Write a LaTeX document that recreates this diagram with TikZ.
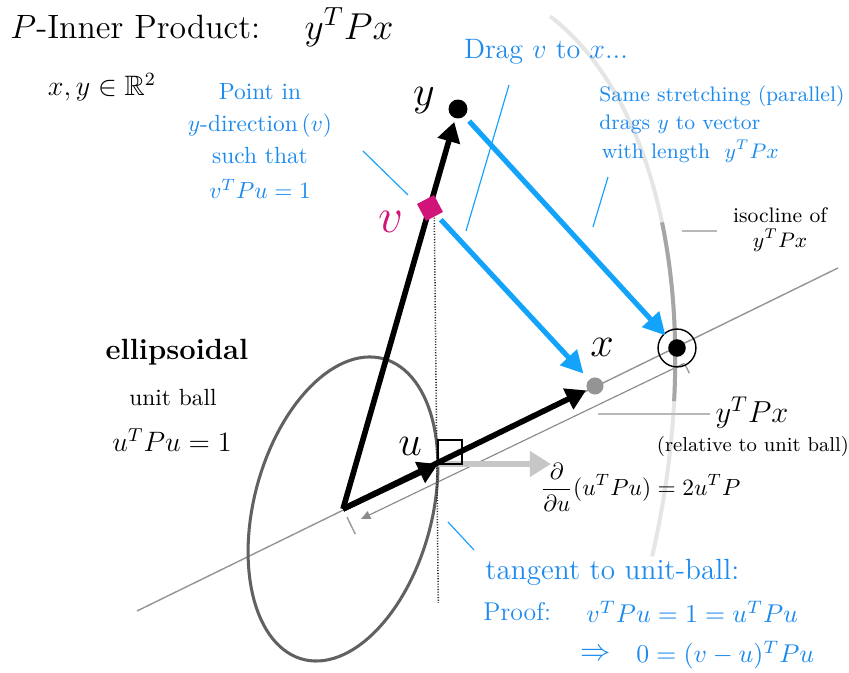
\RequirePackage{fix-cm}
\documentclass[tikz,border=0pt]{standalone}
\usepackage{amsmath,amssymb}
\usetikzlibrary{arrows.meta}
\definecolor{arrowblue}{RGB}{20,163,250}
\definecolor{textblue}{RGB}{28,138,238}
\definecolor{vmag}{RGB}{208,20,122}
\newcommand{\fsz}[2]{\fontsize{#1}{#2}\selectfont}
\tikzset{
  blackarrow/.style={line width=2.4pt,-{Triangle[length=8.5pt,width=9.5pt]}},
  bluearrow/.style={arrowblue,line width=2.2pt,-{Triangle[length=9.5pt,width=9.5pt]}},
  gradarrow/.style={black!22,line width=2.8pt,-{Triangle[length=9pt,width=10.5pt]}},
  dimarrow/.style={black!45,line width=0.5pt,-{Triangle[length=4pt,width=3.5pt]}},
  leaderblue/.style={arrowblue,line width=0.5pt},
  leadergray/.style={black!28,line width=0.7pt},
  bluetext/.style={text=textblue,inner sep=0pt},
  blacktext/.style={inner sep=0pt},
  vlabel/.style={inner sep=0pt},
}
\begin{document}
\begin{tikzpicture}[x=0.4274pt,y=-0.4274pt]
\useasboundingbox (0,0) rectangle (849,673);
% key points
\coordinate (O) at (343,509);
\coordinate (U) at (438,464);
\coordinate (Vc) at (430,208);
\coordinate (L1) at (137,611);
\coordinate (L2) at (838,268);
\coordinate (T1) at (434.3,215);
\coordinate (T2) at (438.3,603);
\coordinate (G) at (551,464);
\coordinate (D1) at (361,519);
\coordinate (D2) at (684.5,363.3);
\coordinate (K1a) at (347,517.1);
\coordinate (K1b) at (355.3,534.1);
\coordinate (K2a) at (685.4,365.1);
\coordinate (K2b) at (689.3,373.1);
% main line through O, u, x
\draw[black!42,line width=0.6pt] (L1) -- (L2);
% dimension arrow with ticks
\draw[dimarrow] (D2) -- (D1);
\draw[black!40,line width=0.6pt] (K1a) -- (K1b);
\draw[black!40,line width=0.6pt] (K2a) -- (K2b);
% isocline arc (scaled ellipse)
\draw[black!10,line width=1.7pt] plot[domain=-13.5:-86.4,samples=80,variable=\t]
  ({343+544.6*cos(\t)*0.2588-311.5*sin(\t)*0.9659},{509-(544.6*cos(\t)*0.9659+311.5*sin(\t)*0.2588)});
\draw[black!35,line width=1.7pt] plot[domain=-48.7:-69.6,samples=30,variable=\t]
  ({343+544.6*cos(\t)*0.2588-311.5*sin(\t)*0.9659},{509-(544.6*cos(\t)*0.9659+311.5*sin(\t)*0.2588)});
% unit ellipse
\draw[black!62,line width=1.3pt] plot[domain=0:360,samples=120,variable=\t]
  ({343+155.6*cos(\t)*0.2588-89*sin(\t)*0.9659},{509-(155.6*cos(\t)*0.9659+89*sin(\t)*0.2588)}) -- cycle;
% tangent (dotted)
\draw[black!85,line width=0.65pt,dash pattern=on 0.45pt off 0.7pt] (T1) -- (T2);
% gradient arrow
\draw[gradarrow] (U) -- (G);
% points
\node[circle,fill=black!42,minimum size=7.3pt,inner sep=0pt] (X) at (595,386) {};
\node[circle,fill=black,minimum size=8.1pt,inner sep=0pt] (Y) at (458,109) {};
\node[circle,fill=black,minimum size=7.5pt,inner sep=0pt] (C) at (677,348) {};
\node[circle,draw=black,line width=0.6pt,minimum size=16.2pt,inner sep=0pt] (Cring) at (C) {};
% black vectors
\draw[blackarrow] (O) -- (U);
\draw[blackarrow,shorten >=0.4pt] (O) -- (X);
\draw[blackarrow,shorten >=1.5pt] (O) -- (Y);
% right-angle marker at u
\draw[line width=0.8pt] (U) rectangle ++(24,-24);
% v point
\node[rectangle,fill=vmag,minimum size=8.2pt,inner sep=0pt,rotate=28] (V) at (Vc) {};
% blue drag arrows
\draw[bluearrow,shorten <=6.8pt,shorten >=3.4pt] (Vc) -- (X);
\draw[bluearrow,shorten <=2.8pt,shorten >=3.3pt] (Y) -- (C);
% blue leaders
\coordinate (B1a) at (363,151); \coordinate (B1b) at (408,195);
\coordinate (B2a) at (509,85);  \coordinate (B2b) at (466,231);
\coordinate (B3a) at (608,177); \coordinate (B3b) at (593,227);
\coordinate (B4a) at (448,522); \coordinate (B4b) at (474,550);
\draw[leaderblue] (B1a) -- (B1b);
\draw[leaderblue] (B2a) -- (B2b);
\draw[leaderblue] (B3a) -- (B3b);
\draw[leaderblue] (B4a) -- (B4b);
% gray leaders
\coordinate (G1a) at (682,231); \coordinate (G1b) at (717,231);
\coordinate (G2a) at (598,414); \coordinate (G2b) at (710,414);
\draw[leadergray] (G1a) -- (G1b);
\draw[leadergray] (G2a) -- (G2b);
% vector labels
\node[vlabel] (ylab) at (424,101) {\fsz{18}{20}$y$};
\node[vlabel] (xlab) at (602,347) {\fsz{18}{20}$x$};
\node[vlabel] (ulab) at (410,446) {\fsz{18}{20}$u$};
\node[vlabel,text=vmag] (vlab) at (391,222) {\fsz{21}{23}$v$};
% texts
\node[blacktext,anchor=west] (title) at (10,27) {\fsz{14.4}{17}$P$-Inner Product:};
\node[blacktext] (titlef) at (349,27) {\fsz{16}{19}$y^TPx$};
\node[blacktext] (space) at (102,87) {\fsz{12}{14}$x,y\in\mathbb{R}^2$};
\node[bluetext,align=center,font=\fsz{10}{13.8}] (pointin) at (260,141) {Point in\\$y$-direction$\,(v)$\\such that\\[1pt]$v^TPu=1$};
\node[bluetext] (drag) at (546,52) {\fsz{12}{14}Drag $v$ to $x$...};
\node[bluetext,align=left,anchor=west,font=\fsz{9}{12.2}] (same) at (599,124) {Same stretching (parallel)\\drags $y$ to vector\\\hspace{1pt}with length~ $y^TPx$};
\node[blacktext,align=center,font=\fsz{9}{10.7}] (iso) at (780,230) {isocline of\\$y^TPx$};
\node[blacktext] (ell) at (177,352) {\fsz{12.5}{15}\bfseries ellipsoidal};
\node[blacktext] (ub) at (173,398) {\fsz{10}{12}unit ball};
\node[blacktext] (uPu) at (172,440) {\fsz{12}{14}$u^TPu=1$};
\node[blacktext] (yPx) at (752,413) {\fsz{13}{15}$y^TPx$};
\node[blacktext] (rel) at (753,446) {\fsz{8.6}{10}(relative to unit ball)};
\node[blacktext,anchor=west] (deriv) at (540,487) {\fsz{10}{12}$\displaystyle\frac{\partial}{\partial u}(u^TPu)=2u^TP$};
\node[bluetext,anchor=west] (tang) at (485,572) {\fsz{12.5}{15}tangent to unit-ball:};
\node[bluetext,anchor=west] (proof) at (483,612) {\fsz{11}{13}Proof:};
\node[bluetext,anchor=west] (proof1) at (586,612) {\fsz{11}{13}$v^TPu=1=u^TPu$};
\node[bluetext] (impl) at (596,655) {\fsz{13}{15}$\Rightarrow$};
\node[bluetext,anchor=west] (proof2) at (636,655) {\fsz{11}{13}$0=(v-u)^TPu$};
\end{tikzpicture}
\end{document}
